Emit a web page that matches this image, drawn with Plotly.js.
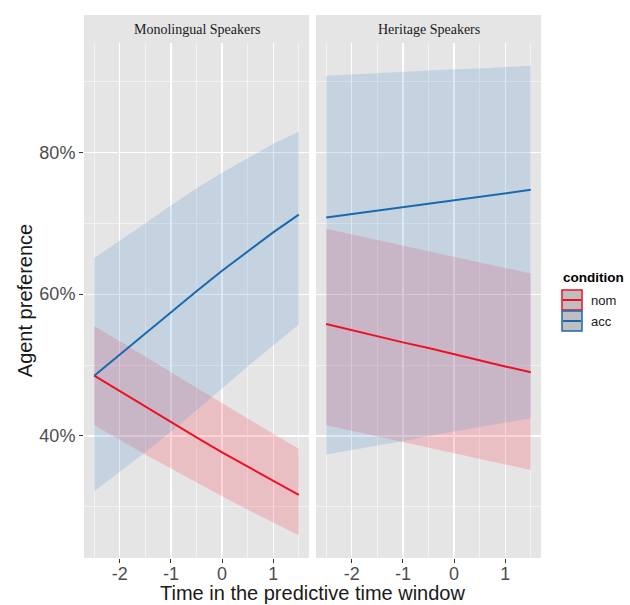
<!DOCTYPE html>
<html>
<head>
<meta charset="utf-8">
<script src="https://cdn.plot.ly/plotly-3.0.1.min.js"></script>
<style>
html, body { margin: 0; padding: 0; background: #ffffff; }
#chart { width: 630px; height: 605px; }
</style>
</head>
<body>
<div id="chart"></div>
<script>
// ---- data (Agent preference, %) ----
var timeX = [-2.5, -2, -1.5, -1, -0.5, 0, 0.5, 1, 1.5];
var panels = ["Monolingual Speakers", "Heritage Speakers"];
var conditions = ["nom", "acc"];

// Monolingual speakers
var monoNomFit   = [48.5, 46.3, 44.1, 41.9, 39.8, 37.7, 35.7, 33.6, 31.7];
var monoNomLow   = [41.5, 39.4, 37.4, 35.4, 33.4, 31.5, 29.6, 27.8, 26.0];
var monoNomHigh  = [55.5, 53.4, 51.2, 49.0, 46.8, 44.6, 42.4, 40.3, 38.2];
var monoAccFit   = [48.5, 51.5, 54.5, 57.5, 60.4, 63.3, 66.0, 68.7, 71.2];
var monoAccLow   = [32.2, 34.9, 37.7, 40.6, 43.6, 46.7, 49.8, 52.8, 55.7];
var monoAccHigh  = [65.1, 67.5, 70.0, 72.5, 74.9, 77.1, 79.2, 81.2, 82.9];

// Heritage speakers
var heriNomFit   = [55.8, 54.9, 54.1, 53.2, 52.4, 51.5, 50.7, 49.8, 49.0];
var heriNomLow   = [41.5, 40.7, 39.9, 39.1, 38.3, 37.6, 36.8, 36.0, 35.2];
var heriNomHigh  = [69.2, 68.4, 67.6, 66.8, 66.0, 65.3, 64.5, 63.7, 62.9];
var heriAccFit   = [70.8, 71.3, 71.8, 72.3, 72.8, 73.3, 73.8, 74.2, 74.7];
var heriAccLow   = [37.4, 38.0, 38.7, 39.3, 40.0, 40.6, 41.2, 41.9, 42.5];
var heriAccHigh  = [90.8, 91.0, 91.1, 91.3, 91.5, 91.7, 91.8, 92.0, 92.2];

var xTickVals = [-2, -1, 0, 1];
var xTickText = ["-2", "-1", "0", "1"];
var yTickVals = [40, 60, 80];
var yTickText = ["40%", "60%", "80%"];

// ---- styling ----
var nomLine = "#ee1126";
var accLine = "#1a69b0";
var nomFill = "rgba(255,60,80,0.22)";
var accFill = "rgba(80,150,205,0.22)";
var panelBg = "#e5e5e5";
var sans = "Liberation Sans, Arial, Helvetica, sans-serif";
var serif = "Liberation Serif, Times New Roman, serif";

function band(xa, low, high, fill) {
  return [
    {x: timeX, y: low, xaxis: xa, yaxis: "y", type: "scatter", mode: "lines",
     line: {width: 0, color: "rgba(0,0,0,0)"}, showlegend: false, hoverinfo: "skip"},
    {x: timeX, y: high, xaxis: xa, yaxis: "y", type: "scatter", mode: "lines",
     fill: "tonexty", fillcolor: fill, line: {width: 0, color: "rgba(0,0,0,0)"},
     showlegend: false, hoverinfo: "skip"}
  ];
}
function fit(xa, vals, color, name) {
  return {x: timeX, y: vals, xaxis: xa, yaxis: "y", type: "scatter", mode: "lines",
          name: name, line: {width: 2, color: color}, showlegend: false};
}

var data = []
  .concat(band("x", monoNomLow, monoNomHigh, nomFill))
  .concat(band("x", monoAccLow, monoAccHigh, accFill))
  .concat(band("x2", heriNomLow, heriNomHigh, nomFill))
  .concat(band("x2", heriAccLow, heriAccHigh, accFill))
  .concat([
    fit("x", monoNomFit, nomLine, conditions[0]),
    fit("x", monoAccFit, accLine, conditions[1]),
    fit("x2", heriNomFit, nomLine, conditions[0]),
    fit("x2", heriAccFit, accLine, conditions[1])
  ]);

var W = 630, H = 605, L = 84, R = 89, T = 43, B = 47;
var pw = W - L - R, ph = H - T - B;
function px(x) { return (x - L) / pw; }
function py(y) { return (H - B - y) / ph; }

var d1 = [0, px(309)], d2 = [px(316), 1];

function xax(domain) {
  return {
    domain: domain, anchor: "y", range: [-2.7, 1.7],
    tickvals: xTickVals, ticktext: xTickText,
    ticks: "outside", ticklen: 4, tickwidth: 1, tickcolor: "#333333",
    ticklabelstandoff: -5,
    tickfont: {family: sans, size: 18, color: "#4d4d4d"},
    showgrid: true, gridcolor: "#ffffff", gridwidth: 1.2,
    minor: {dtick: 0.5, tick0: 0, showgrid: true, gridcolor: "#ffffff", gridwidth: 0.5, ticks: ""},
    zeroline: false, showline: false, fixedrange: true
  };
}

var layout = {
  width: W, height: H,
  margin: {l: L, r: R, t: T, b: B, pad: 0},
  paper_bgcolor: "#ffffff", plot_bgcolor: panelBg,
  showlegend: false,
  xaxis: xax(d1),
  xaxis2: xax(d2),
  yaxis: {
    domain: [0, 1], anchor: "x", range: [22.8, 95.4],
    tickvals: yTickVals, ticktext: yTickText,
    ticks: "outside", ticklen: 4, tickwidth: 1, tickcolor: "#333333",
    tickfont: {family: sans, size: 18, color: "#4d4d4d"},
    showgrid: true, gridcolor: "#ffffff", gridwidth: 1.2,
    minor: {dtick: 10, tick0: 0, showgrid: true, gridcolor: "#ffffff", gridwidth: 0.5, ticks: ""},
    zeroline: false, showline: false, fixedrange: true,
    title: {text: "Agent preference", font: {family: sans, size: 20, color: "#1a1a1a"}, standoff: 1}
  },
  shapes: [
    {type: "rect", xref: "paper", yref: "paper", x0: d1[0], x1: d1[1], y0: 1, y1: py(15),
     fillcolor: panelBg, line: {width: 0}, layer: "below"},
    {type: "rect", xref: "paper", yref: "paper", x0: d2[0], x1: d2[1], y0: 1, y1: py(15),
     fillcolor: panelBg, line: {width: 0}, layer: "below"},
    // legend keys
    {type: "rect", xref: "paper", yref: "paper", x0: px(562), x1: px(582), y0: py(310), y1: py(290),
     fillcolor: "#bfbfbf", line: {width: 1.5, color: nomLine}},
    {type: "line", xref: "paper", yref: "paper", x0: px(563), x1: px(581), y0: py(300), y1: py(300),
     line: {width: 2, color: nomLine}},
    {type: "rect", xref: "paper", yref: "paper", x0: px(562), x1: px(582), y0: py(331), y1: py(311),
     fillcolor: "#bfbfbf", line: {width: 1.5, color: accLine}},
    {type: "line", xref: "paper", yref: "paper", x0: px(563), x1: px(581), y0: py(321), y1: py(321),
     line: {width: 2, color: accLine}}
  ],
  annotations: [
    {text: panels[0], xref: "paper", yref: "paper", x: (d1[0] + d1[1]) / 2, y: py(29),
     xanchor: "center", yanchor: "middle", showarrow: false,
     font: {family: serif, size: 14, color: "#1a1a1a"}},
    {text: panels[1], xref: "paper", yref: "paper", x: (d2[0] + d2[1]) / 2, y: py(29),
     xanchor: "center", yanchor: "middle", showarrow: false,
     font: {family: serif, size: 14, color: "#1a1a1a"}},
    {text: "Time in the predictive time window", xref: "paper", yref: "paper", x: 0.5, y: py(606),
     xanchor: "center", yanchor: "bottom", showarrow: false,
     font: {family: sans, size: 20, color: "#1a1a1a"}},
    {text: "<b>condition</b>", xref: "paper", yref: "paper", x: px(561), y: py(277),
     xanchor: "left", yanchor: "middle", showarrow: false,
     font: {family: sans, size: 13.5, color: "#000000"}},
    {text: conditions[0], xref: "paper", yref: "paper", x: px(589), y: py(300),
     xanchor: "left", yanchor: "middle", showarrow: false,
     font: {family: sans, size: 13, color: "#1a1a1a"}},
    {text: conditions[1], xref: "paper", yref: "paper", x: px(589), y: py(321),
     xanchor: "left", yanchor: "middle", showarrow: false,
     font: {family: sans, size: 13, color: "#1a1a1a"}}
  ]
};

Plotly.newPlot("chart", data, layout, {staticPlot: true, displayModeBar: false});
</script>
</body>
</html>
